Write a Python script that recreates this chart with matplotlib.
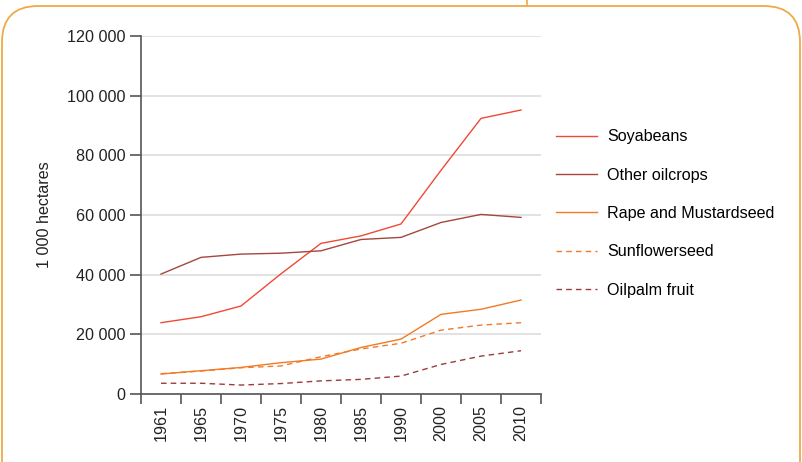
import matplotlib.pyplot as plt
from matplotlib.patches import FancyBboxPatch
from matplotlib.lines import Line2D

plt.rcParams['font.family'] = ['Liberation Sans', 'DejaVu Sans']

years = ['1961', '1965', '1970', '1975', '1980', '1985', '1990', '2000', '2005', '2010']
soyabeans = [23900, 25900, 29500, 40300, 50500, 53000, 57000, 75000, 92400, 95200]
other_oilcrops = [40200, 45800, 46900, 47200, 48000, 51800, 52500, 57500, 60200, 59200]
rape_mustard = [6700, 7800, 8900, 10500, 11700, 15600, 18400, 26700, 28400, 31500]
sunflower = [6800, 7700, 8800, 9400, 12500, 15100, 17000, 21400, 23100, 23900]
oilpalm = [3600, 3600, 3000, 3500, 4400, 4900, 6000, 9900, 12700, 14500]

yticks = [0, 20000, 40000, 60000, 80000, 100000, 120000]
ytick_labels = ['0', '20 000', '40 000', '60 000', '80 000', '100 000', '120 000']

fs = 11.6
fig = plt.figure(figsize=(8.02, 4.62), dpi=100)
ax = fig.add_axes([0.1758, 0.1472, 0.4988, 0.7748])

x = list(range(len(years)))
lw = 1.0
ax.plot(x, soyabeans, color='#ef4a36', lw=lw, label='Soyabeans')
ax.plot(x, other_oilcrops, color='#a3473f', lw=lw, label='Other oilcrops')
ax.plot(x, rape_mustard, color='#f27a24', lw=lw, label='Rape and Mustardseed')
ax.plot(x, sunflower, color='#f27a24', lw=lw, ls=(0, (4, 3)), label='Sunflowerseed')
ax.plot(x, oilpalm, color='#9c3b3b', lw=lw, ls=(0, (4, 3)), label='Oilpalm fruit')

ax.set_xlim(-0.5, len(years) - 0.5)
ax.set_ylim(0, 120000)
ax.set_yticks(yticks)
ax.set_yticklabels(ytick_labels, fontsize=fs, color='#222222')
ax.set_xticks([i - 0.5 for i in range(len(years) + 1)])
ax.set_xticklabels([])
ax.set_xticks(x, minor=True)
ax.set_xticklabels(years, minor=True, rotation=90, fontsize=fs, color='#222222')
ax.tick_params(axis='x', which='minor', length=0, pad=8)
ax.tick_params(axis='x', which='major', length=7, width=1.2, color='#555555', direction='out')
ax.tick_params(axis='y', length=8, width=1.2, color='#555555', pad=3)

ax.grid(axis='y', color='#dddddd', lw=1.2)
ax.set_axisbelow(True)
for s in ['top', 'right']:
    ax.spines[s].set_visible(False)
for s in ['left', 'bottom']:
    ax.spines[s].set_color('#555555')
    ax.spines[s].set_linewidth(1.2)

ax.set_ylabel('1 000 hectares', fontsize=fs, color='#222222', labelpad=11)

ax.legend(loc='upper left', bbox_to_anchor=(0.6855, 0.734), bbox_transform=fig.transFigure,
          frameon=False, fontsize=fs, handlelength=2.55, labelspacing=1.45,
          handletextpad=0.6, borderaxespad=0)

# rounded frame around the figure
frame = FancyBboxPatch((2 / 802, -0.1), 798 / 802, 1.087, transform=fig.transFigure,
                       boxstyle='round,pad=0,rounding_size=0.045', fill=False,
                       edgecolor='#eeaa48', lw=1.3, mutation_aspect=802 / 462)
fig.patches.append(frame)
fig.lines.append(Line2D([527 / 802, 527 / 802], [1, 1 - 6 / 462], transform=fig.transFigure,
                        color='#eeaa48', lw=1.2))

fig.savefig('out.png', dpi=100)
